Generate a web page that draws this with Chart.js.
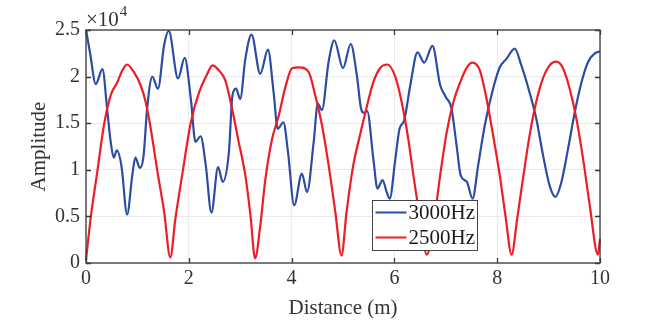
<!DOCTYPE html>
<html><head><meta charset="utf-8">
<script src="https://cdn.jsdelivr.net/npm/chart.js@4.4.1/dist/chart.umd.min.js"></script>
<style>html,body{margin:0;padding:0;background:#fff}#wrap{width:664px;height:324px}</style>
</head><body><div id="wrap"><canvas id="c" width="664" height="324"></canvas></div>
<script>
// Series labels
const seriesLabels = ['3000Hz', '2500Hz'];
// Distance (m) and amplitude (x10^4) for 3000Hz
const blueX = [0.00,0.08,0.19,0.32,0.41,0.48,0.54,0.60,0.69,0.80,0.90,0.96,1.05,1.12,1.19,1.29,1.40,1.52,1.61,1.79,1.92,2.04,2.13,2.23,2.33,2.44,2.57,2.66,2.78,2.85,2.92,3.00,3.10,3.22,3.39,3.54,3.65,3.73,3.84,3.93,4.05,4.20,4.30,4.43,4.51,4.59,4.72,4.83,5.00,5.15,5.27,5.35,5.41,5.47,5.59,5.67,5.77,5.85,5.91,6.01,6.10,6.19,6.31,6.45,6.58,6.74,6.89,7.00,7.11,7.21,7.29,7.41,7.52,7.63,7.76,7.92,8.05,8.18,8.34,8.47,8.63,8.76,8.89,9.02,9.13,9.25,9.38,9.51,9.64,9.77,9.90,10.00];
const blueY = [2.50,2.25,1.92,2.08,1.66,1.30,1.13,1.21,1.04,0.52,0.94,1.13,1.02,1.15,1.66,2.00,1.87,2.34,2.49,1.98,2.20,1.76,1.30,1.36,1.05,0.54,1.03,0.87,1.19,1.80,1.87,1.76,2.19,2.45,2.03,2.29,1.83,1.44,1.51,1.19,0.62,0.96,0.76,1.30,1.71,1.64,2.16,2.39,2.09,2.35,2.01,1.66,1.61,1.63,1.12,0.80,0.89,0.76,0.69,1.08,1.44,1.53,1.91,2.26,2.15,2.33,1.91,1.78,1.66,1.26,0.94,0.87,0.69,1.05,1.48,1.87,2.10,2.19,2.30,2.12,1.83,1.55,1.16,0.83,0.71,0.87,1.23,1.62,1.94,2.16,2.25,2.27];
// Distance (m) and amplitude (x10^4) for 2500Hz
const redX = [0.00,0.09,0.22,0.35,0.48,0.61,0.71,0.80,0.93,1.06,1.16,1.26,1.39,1.52,1.64,1.74,1.87,2.04,2.20,2.36,2.46,2.58,2.71,2.84,2.97,3.10,3.20,3.29,3.39,3.49,3.62,3.75,3.88,4.01,4.14,4.33,4.46,4.59,4.72,4.85,4.97,5.07,5.20,5.33,5.46,5.59,5.72,5.86,6.01,6.14,6.27,6.38,6.50,6.63,6.76,6.89,7.02,7.15,7.28,7.41,7.52,7.66,7.79,7.92,8.05,8.16,8.28,8.39,8.50,8.63,8.76,8.89,9.02,9.15,9.28,9.41,9.54,9.67,9.80,9.96,10.00];
const redY = [0.03,0.48,0.98,1.48,1.80,1.94,2.07,2.13,2.05,1.91,1.73,1.44,0.98,0.55,0.06,0.48,0.94,1.51,1.83,2.03,2.12,2.07,1.96,1.66,1.30,0.94,0.51,0.05,0.40,0.90,1.33,1.58,1.89,2.09,2.10,2.05,1.80,1.48,1.05,0.55,0.08,0.55,1.05,1.37,1.67,1.94,2.09,2.13,2.01,1.73,1.33,0.90,0.48,0.09,0.40,0.94,1.41,1.73,1.94,2.10,2.15,2.07,1.77,1.37,0.94,0.51,0.09,0.48,0.90,1.37,1.73,1.98,2.12,2.16,2.09,1.87,1.55,1.12,0.62,0.09,0.26];
// Tick values and labels
const xTicks = [0,2,4,6,8,10];
const xTickLabels = ['0','2','4','6','8','10'];
const yTicks = [0,0.5,1,1.5,2,2.5];
const yTickLabels = ['0','0.5','1','1.5','2','2.5'];

const BLUE = '#2c4ca3', RED = '#ee1c25', TXT = '#333333', AX = '#3a3a3a';
const FONT = 'Liberation Serif';

const toPts = (xs, ys) => xs.map((v, i) => ({x: v, y: ys[i]}));

const frame = {
  id: 'frame',
  afterDraw(chart) {
    const {ctx, chartArea: a, scales: {x, y}} = chart;
    ctx.save();
    ctx.strokeStyle = AX; ctx.lineWidth = 1.3;
    ctx.strokeRect(a.left, a.top, a.right - a.left, a.bottom - a.top);
    const L = 5;
    ctx.beginPath();
    xTicks.forEach(v => { const p = Math.round(x.getPixelForValue(v)) + 0.5;
      ctx.moveTo(p, a.bottom); ctx.lineTo(p, a.bottom - L);
      ctx.moveTo(p, a.top); ctx.lineTo(p, a.top + L); });
    yTicks.forEach(v => { const p = Math.round(y.getPixelForValue(v)) + 0.5;
      ctx.moveTo(a.left, p); ctx.lineTo(a.left + L, p);
      ctx.moveTo(a.right, p); ctx.lineTo(a.right - L, p); });
    ctx.stroke();
    // exponent label
    ctx.fillStyle = TXT; ctx.textBaseline = 'alphabetic'; ctx.textAlign = 'left';
    ctx.font = '21px "' + FONT + '"';
    ctx.fillText('\u00d710', a.left, a.top - 4);
    const w = ctx.measureText('\u00d710').width;
    ctx.font = '15px "' + FONT + '"';
    ctx.fillText('4', a.left + w + 1, a.top - 14);
    // legend
    const bx = 372.5, by = 200.5, bw = 105, bh = 50;
    ctx.fillStyle = '#ffffff'; ctx.fillRect(bx, by, bw, bh);
    ctx.strokeStyle = '#444'; ctx.lineWidth = 1; ctx.strokeRect(bx, by, bw, bh);
    const ds = chart.data.datasets;
    ctx.font = '21px "' + FONT + '"'; ctx.textBaseline = 'middle';
    ds.forEach((d, i) => {
      const yy = by + 12 + i * 25;
      ctx.strokeStyle = d.borderColor; ctx.lineWidth = 2;
      ctx.beginPath(); ctx.moveTo(bx + 3, yy); ctx.lineTo(bx + 34, yy); ctx.stroke();
      ctx.fillStyle = '#1a1a1a'; ctx.fillText(d.label, bx + 36, yy + 1);
    });
    ctx.restore();
  }
};

new Chart(document.getElementById('c'), {
  type: 'line',
  data: {
    datasets: [
      {label: seriesLabels[0], data: toPts(blueX, blueY), borderColor: BLUE, borderWidth: 2.2, pointRadius: 0, cubicInterpolationMode: 'monotone', clip: false, order: 1},
      {label: seriesLabels[1], data: toPts(redX, redY), borderColor: RED, borderWidth: 2.2, pointRadius: 0, cubicInterpolationMode: 'monotone', clip: false, order: 0}
    ]
  },
  options: {
    responsive: false, animation: false, devicePixelRatio: 1,
    layout: {padding: {left: 0, right: 64, top: 30, bottom: 0}},
    plugins: {legend: {display: false}, tooltip: {enabled: false}},
    scales: {
      x: {
        type: 'linear', min: 0, max: 10,
        afterBuildTicks: s => { s.ticks = xTicks.map(v => ({value: v})); },
        afterFit: s => { s.height = 61; },
        grid: {color: '#ebebeb', drawTicks: false, lineWidth: 1},
        border: {display: false},
        ticks: {padding: 4, color: TXT, font: {family: FONT, size: 20}, maxRotation: 0,
          callback: (v) => xTickLabels[xTicks.indexOf(v)]},
        title: {display: true, text: 'Distance (m)', color: TXT, font: {family: FONT, size: 21}, padding: {top: 0, bottom: 3}}
      },
      y: {
        type: 'linear', min: 0, max: 2.5,
        afterBuildTicks: s => { s.ticks = yTicks.map(v => ({value: v})); },
        afterFit: s => { s.width = 86; },
        grid: {color: '#ebebeb', drawTicks: false, lineWidth: 1},
        border: {display: false},
        ticks: {padding: 6, color: TXT, font: {family: FONT, size: 20},
          callback: (v) => yTickLabels[yTicks.indexOf(v)]},
        title: {display: true, text: 'Amplitude', color: TXT, font: {family: FONT, size: 21}, padding: {top: 27, bottom: 0}}
      }
    }
  },
  plugins: [frame]
});
</script>
</body></html>
